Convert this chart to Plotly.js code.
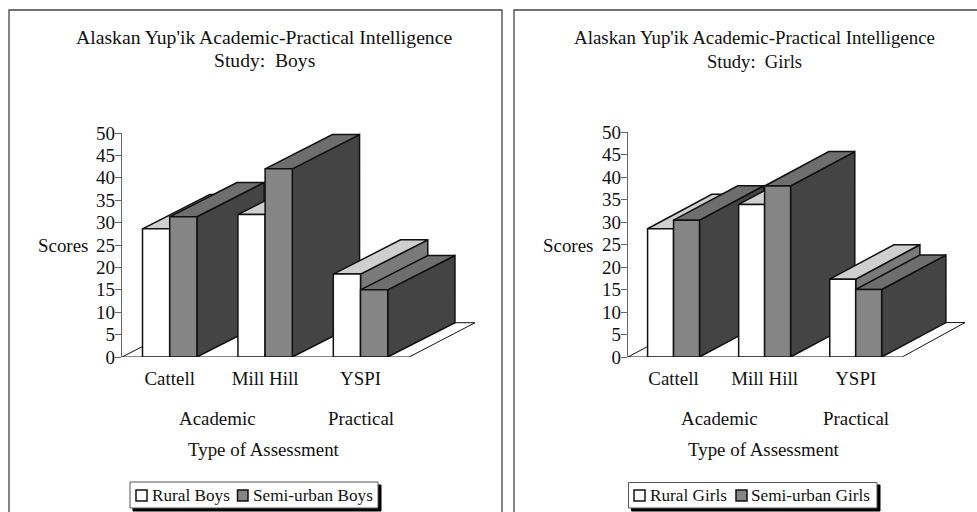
<!DOCTYPE html>
<html><head><meta charset="utf-8">
<script src="https://cdn.plot.ly/plotly-3.0.1.min.js"></script>
<style>html,body{margin:0;padding:0;background:#fff}#c{width:977px;height:512px}</style>
</head><body><div id="c"></div>
<script>
const categories = ['Cattell', 'Mill Hill', 'YSPI'];
const groupPositions = [0, 1, 2];
const yTicks = [0,5,10,15,20,25,30,35,40,45,50];
const ruralBoys = [28.6, 31.8, 18.5];
const semiBoys  = [31.3, 42.0, 15.0];
const ruralGirls = [28.5, 33.9, 17.3];
const semiGirls  = [30.4, 38.0, 15.0];
const W = 977, H = 512;
const FONT = 'Liberation Serif';
const TXT = '#111';
const barGap = 0.43;
const barW = (1 - barGap) / 2;
const depthX = 0.705, depthY = 7.65;
const xRange = [-0.5, 3.2];
const C = {ruralFront:'#ffffff', ruralTop:'#cfcfcf', ruralSide:'#7a7a7a', semiFront:'#858585', semiTop:'#6e6e6e', semiSide:'#444444', edge:'#111'};

function poly(xs, ys, fill, xa, ya, w) {
  return {type:'scatter', mode:'lines', x:xs.concat(xs[0]), y:ys.concat(ys[0]), fill:'toself', fillcolor:fill,
    line:{color:C.edge, width:w||1.5}, xaxis:xa, yaxis:ya, hoverinfo:'skip', showlegend:false};
}
function faces(rural, semi, xa, ya) {
  const out = [];
  out.push(poly([xRange[0], 2.51, xRange[1], xRange[0]+depthX],[0,0,depthY,depthY],'#ffffff',xa,ya,1));
  groupPositions.forEach((g,i)=>{
    [[rural[i], g-barW, C.ruralTop, C.ruralSide],[semi[i], g, C.semiTop, C.semiSide]].forEach(([v,l,top,side])=>{
      const r = l+barW;
      out.push(poly([r, r+depthX, r+depthX, r],[0,depthY,v+depthY,v],side,xa,ya));
      out.push(poly([l, r, r+depthX, l+depthX],[v,v,v+depthY,v+depthY],top,xa,ya));
    });
  });
  return out;
}
function bars(name, vals, color, xa, ya) {
  return {type:'bar', name, x:groupPositions, y:vals, marker:{color, line:{color:C.edge, width:1.5}}, xaxis:xa, yaxis:ya, showlegend:false};
}
const data = [
  ...faces(ruralBoys, semiBoys, 'x', 'y'),
  bars('Rural Boys', ruralBoys, C.ruralFront, 'x2', 'y2'),
  bars('Semi-urban Boys', semiBoys, C.semiFront, 'x2', 'y2'),
  ...faces(ruralGirls, semiGirls, 'x3', 'y3'),
  bars('Rural Girls', ruralGirls, C.ruralFront, 'x4', 'y4'),
  bars('Semi-urban Girls', semiGirls, C.semiFront, 'x4', 'y4'),
];
const px = v => v / W, py = v => 1 - v / H;
function xAxis(dom, anchor) {
  return {domain:dom, range:xRange, tickmode:'array', tickvals:groupPositions, ticktext:categories, ticks:'', showgrid:false, zeroline:false,
    showline:false, anchor, fixedrange:true, tickfont:{family:FONT,size:18.9,color:TXT}, ticklabelstandoff:8};
}
function yAxis(dom, anchor) {
  return {domain:dom, range:[0,50], tickmode:'array', tickvals:yTicks, ticks:'outside', ticklen:6, tickcolor:'#666', showgrid:false, zeroline:false,
    showline:true, linecolor:'#666', linewidth:1.3, anchor, fixedrange:true, tickfont:{family:FONT,size:19,color:TXT}, ticklabelstandoff:-4};
}
function hidden(base, dom, isX, anchor) {
  return {domain:dom, range:isX?xRange:[0,50], overlaying:base, visible:false, fixedrange:true, anchor};
}
const xdL=[px(122),px(475)], xdR=[px(628),px(965)];
const ydL=[py(357),py(133)], ydR=[py(357),py(132)];
function txt(text,x,y,xref,size){return {text,x:xref?x:px(x),y:py(y),xref:xref||'paper',yref:'paper',showarrow:false,xanchor:'center',yanchor:'middle',font:{family:FONT,size:size||18.9,color:TXT}};}
function ltxt(text,x,y){return {text,x:px(x),y:py(y),xref:'paper',yref:'paper',showarrow:false,xanchor:'left',xshift:-2,yanchor:'middle',font:{family:FONT,size:17.2,color:TXT}};}
function rect(x0,y0,x1,y1,line,fill,w){return {type:'rect',xref:'paper',yref:'paper',x0:px(x0),x1:px(x1),y0:py(y0),y1:py(y1),line:{color:line,width:w},fillcolor:fill,layer:'below'};}
const annotations=[
  txt("Alaskan Yup'ik Academic-Practical Intelligence",263.5,37,null,19.7), txt('Study:  Boys',264,60,null,19.6),
  txt('Scores',63,245), txt('Academic',0.5,418,'x'), txt('Practical',2,418,'x'), txt('Type of Assessment',264,449),
  ltxt('Rural Boys',152,495.5), ltxt('Semi-urban Boys',252.5,495.5),
  txt("Alaskan Yup'ik Academic-Practical Intelligence",754,37,null,18.9), txt('Study:  Girls',754,61,null,18.6),
  txt('Scores',568,245), txt('Academic',0.5,418,'x3'), txt('Practical',2,418,'x3'), txt('Type of Assessment',764,449),
  ltxt('Rural Girls',650,495.5), ltxt('Semi-urban Girls',751,495.5),
];
const shapes=[
  rect(9,10,502,520,'#444',"#fff",1.3), rect(514,10,990,520,'#444',"#fff",1.3),
  rect(133,485,381,511,'#000','#000',1), rect(130,482,378,508,'#555','#fff',1),
  rect(136,490,147,501,'#111','#fff',1.5), rect(237.5,490,248,501,'#111','#858585',1.5),
  rect(631.5,485,880,511,'#000','#000',1), rect(628.5,482.5,877,508,'#555','#fff',1),
  rect(634,490,645,501,'#111','#fff',1.5), rect(736,490,747,501,'#111','#858585',1.5),
];
const layout={width:W,height:H,margin:{l:0,r:0,t:0,b:0},paper_bgcolor:'#fff',plot_bgcolor:'rgba(0,0,0,0)',showlegend:false,barmode:'group',bargap:barGap,bargroupgap:0,
  xaxis:xAxis(xdL,'y'), yaxis:yAxis(ydL,'x'),
  xaxis2:hidden('x',xdL,true,'y2'), yaxis2:hidden('y',ydL,false,'x2'),
  xaxis3:xAxis(xdR,'y3'), yaxis3:yAxis(ydR,'x3'),
  xaxis4:hidden('x3',xdR,true,'y4'), yaxis4:hidden('y3',ydR,false,'x4'),
  annotations,shapes};
Plotly.newPlot('c',data,layout,{displayModeBar:false,staticPlot:true});
</script></body></html>
